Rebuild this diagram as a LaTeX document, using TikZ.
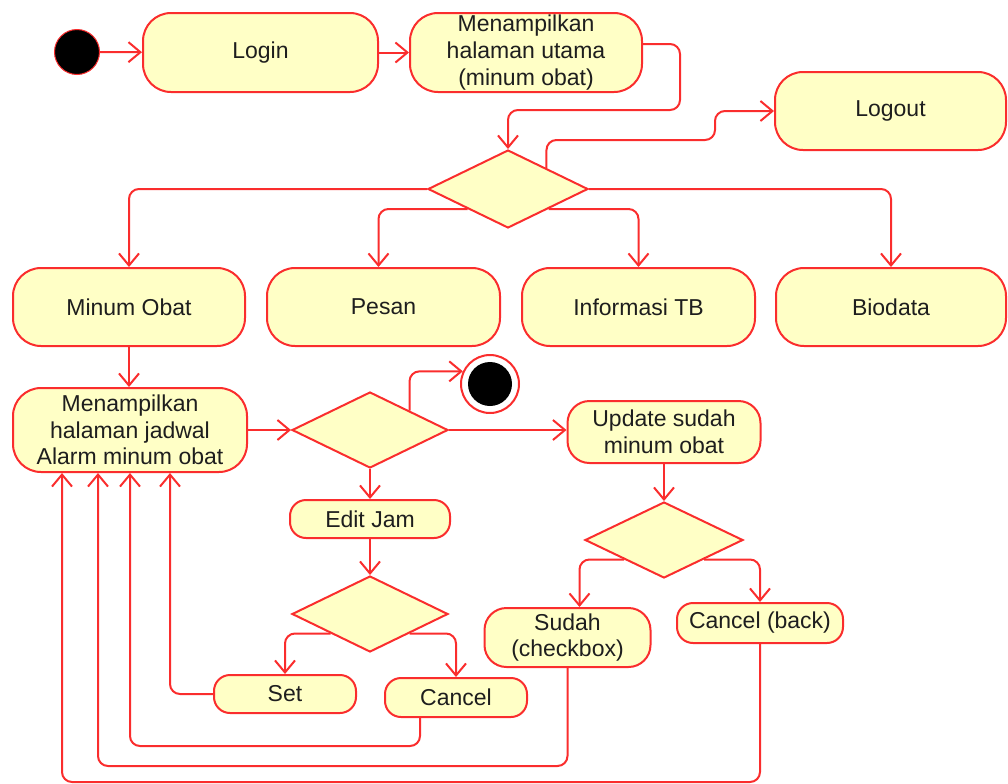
\documentclass[tikz,border=0pt]{standalone}
\usepackage{fontspec}
\setmainfont{Liberation Sans}
\usetikzlibrary{arrows.meta,shapes.geometric,calc}
\definecolor{umlred}{RGB}{250,45,45}
\definecolor{umlfill}{RGB}{255,255,198}
\definecolor{umltext}{RGB}{30,30,30}
\begin{document}
\begin{tikzpicture}[x=0.5pt,y=-0.5pt,
  every node/.style={font=\fontsize{11.5}{13.3}\selectfont, text=umltext},
  actbox/.style={draw=umlred, fill=umlfill, line width=1pt, rounded corners=14pt,
    inner sep=0pt, align=center},
  decision/.style={diamond, draw=umlred, fill=umlfill, line width=1pt, inner sep=0pt,
    minimum width=78pt, minimum height=38pt},
  startdot/.style={circle, fill=black, draw=umlred, line width=0.5pt, inner sep=0pt,
    minimum size=22.5pt},
  flow/.style={draw=umlred, line width=1pt, rounded corners=5pt,
    -{Straight Barb[length=6pt,width=10pt]}}]

\useasboundingbox (0,0) rectangle (1008,783);

% top row
\node[startdot] (start) at (77,52) {};
\node[actbox, minimum width=117.5pt, minimum height=39.5pt] (login) at (260.5,52.5) {Login};
\node[actbox, minimum width=116pt, minimum height=39.5pt] (utama) at (526,52.5)
  {Menampilkan\\halaman utama\\(minum obat)};
\node[actbox, minimum width=115.5pt, minimum height=39pt] (logout) at (890.5,111) {Logout};

% main menu choice
\node[decision, minimum width=80pt, minimum height=39pt] (d1) at (508,189) {};

% menu entries
\node[actbox, minimum width=116pt, minimum height=39pt] (minum) at (129,307) {Minum Obat};
\node[actbox, minimum width=116.5pt, minimum height=39pt] (pesan) at (383.5,307) {Pesan};
\node[actbox, minimum width=116.5pt, minimum height=39pt] (info) at (638.5,307) {Informasi TB};
\node[actbox, minimum width=115pt, minimum height=39pt] (bio) at (891,307) {Biodata};

% schedule page
\node[actbox, minimum width=117pt, minimum height=42pt] (jadwal) at (130,430)
  {Menampilkan\\halaman jadwal\\Alarm minum obat};
\node[decision] (d2) at (370,430) {};
\node[circle, draw=umlred, fill=white, line width=1pt, inner sep=0pt, minimum size=29pt]
  (final) at (490,384) {};
\node[circle, fill=black, inner sep=0pt, minimum size=22pt] (finaldot) at (final) {};
\node[actbox, rounded corners=11pt, minimum width=96.5pt, minimum height=31pt] (update)
  at (664,432) {Update sudah\\minum obat};

% editing the alarm time
\node[actbox, rounded corners=8pt, minimum width=80pt, minimum height=19pt] (edit)
  at (370,519) {Edit Jam};
\node[decision] (d3) at (370,614) {};
\node[actbox, rounded corners=8pt, minimum width=71pt, minimum height=19pt] (set)
  at (285,694) {Set};
\node[actbox, rounded corners=8pt, minimum width=71pt, minimum height=19.5pt] (cancel)
  at (456,697.5) {Cancel};

% confirming the medication
\node[decision, minimum width=79pt] (d4) at (664,540) {};
\node[actbox, rounded corners=11pt, minimum width=83pt, minimum height=29.5pt] (sudah)
  at (567.5,637.5) {Sudah\\(checkbox)};
\node[actbox, rounded corners=8pt, minimum width=83pt, minimum height=20pt] (back)
  at (760,623) {Cancel (back)};

% connectors
\draw[flow] (start) -- (login);
\draw[flow] (login) -- (utama);
\draw[flow] ([yshift=4.25pt]utama.east) -| (680,110) -| (d1.north);
\draw[flow] ($(d1.north)!0.475!(d1.east)$) |- (715,140) |- (logout.west);
\draw[flow] (d1.west) -| (minum.north);
\draw[flow] ($(d1.south)!0.5!(d1.west)$) -| ([xshift=-2.5pt]pesan.north);
\draw[flow] ($(d1.south)!0.5!(d1.east)$) -| (info.north);
\draw[flow] (d1.east) -| (bio.north);
\draw[flow] (minum.south) -- (minum.south |- jadwal.north);
\draw[flow] (jadwal.east) -- (d2.west);
\draw[flow] ($(d2.north)!0.5!(d2.east)$) |- (final.155);
\draw[flow] (d2.east) -- (d2.east -| update.west);
\draw[flow] (d2.south) -- (edit.north);
\draw[flow] (edit.south) -- (d3.north);
\draw[flow] ($(d3.south)!0.5!(d3.west)$) -| (set.north);
\draw[flow] ($(d3.south)!0.5!(d3.east)$) -| (cancel.north);
\draw[flow] (set.west) -| ($(jadwal.south)+(40,0)$);
\draw[flow] ([xshift=-18pt]cancel.south) |- ($(jadwal.south)+(0,273)$) -- (jadwal.south);
\draw[flow] (update.south) -- (d4.north);
\draw[flow] ($(d4.south)!0.5!(d4.west)$) -| ([xshift=6pt]sudah.north);
\draw[flow] ($(d4.south)!0.5!(d4.east)$) -| (back.north);
\draw[flow] (sudah.south) |- ($(jadwal.south)+(-32,293)$) -- ($(jadwal.south)+(-32,0)$);
\draw[flow] (back.south) |- ($(jadwal.south)+(-68,309)$) -- ($(jadwal.south)+(-68,0)$);
\end{tikzpicture}
\end{document}
